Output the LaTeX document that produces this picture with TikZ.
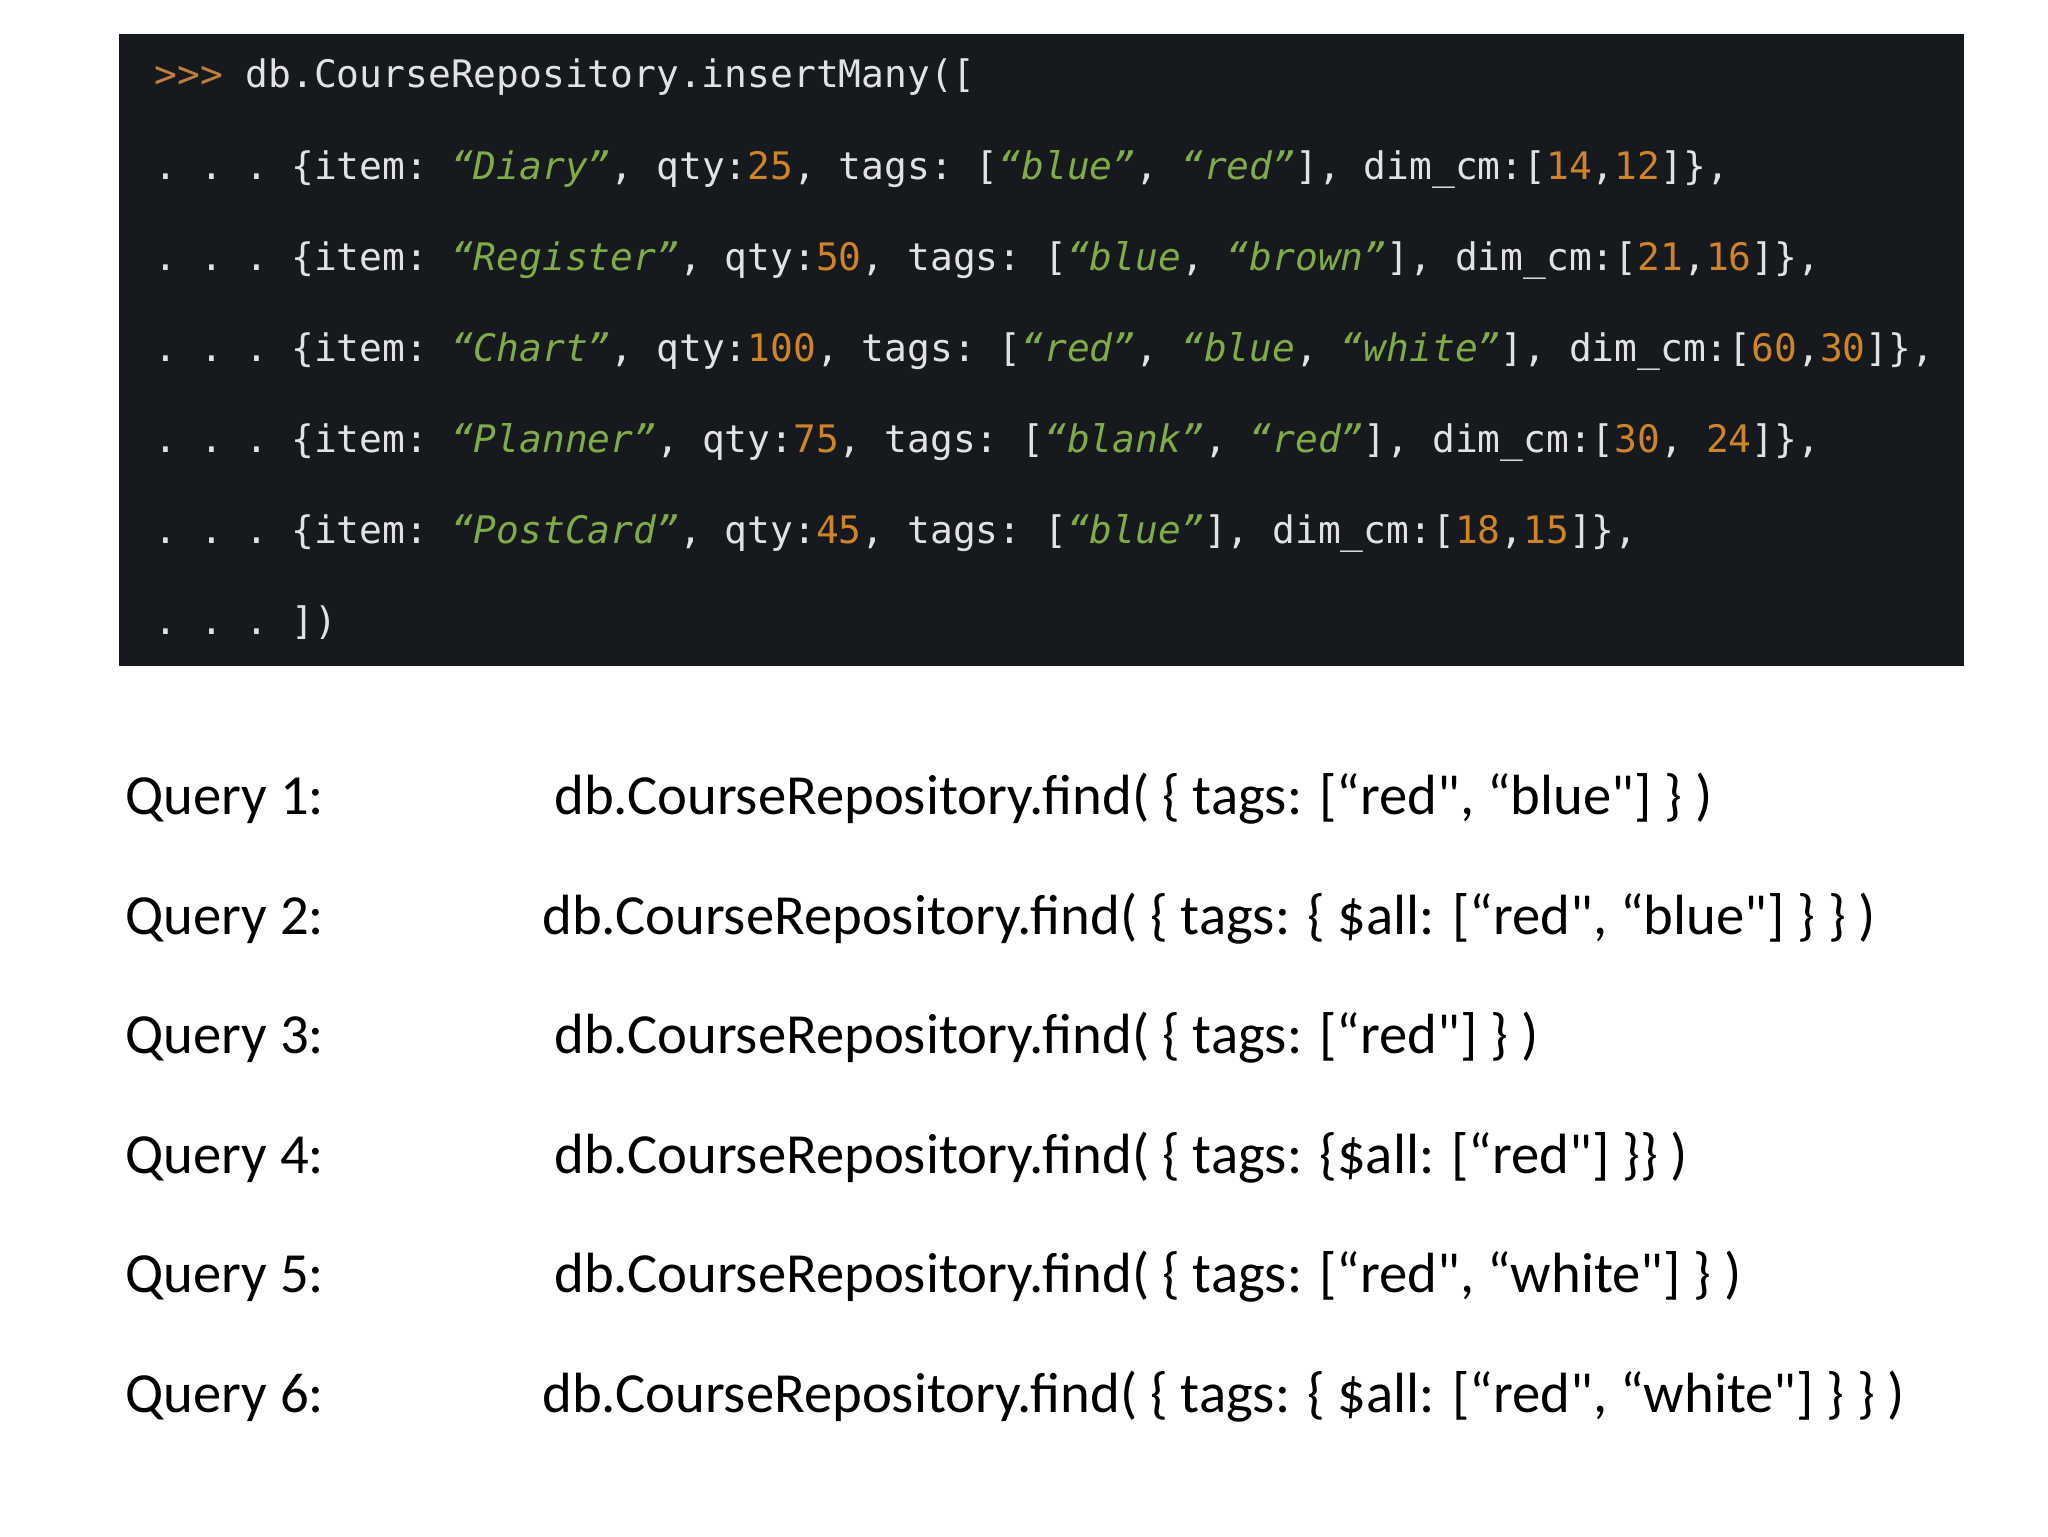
\documentclass[tikz,border=0pt]{standalone}
\usepackage{fontspec}
\setmainfont{Carlito}[Ligatures=TeXOff]
\newfontfamily\codefont{DejaVu Sans Mono}[Ligatures=TeXOff]

\definecolor{codebg}{RGB}{22,25,29}
\definecolor{codefg}{RGB}{226,226,226}
\definecolor{codestr}{RGB}{128,172,72}
\definecolor{codenum}{RGB}{208,132,40}
\definecolor{prompt}{RGB}{190,128,58}
\newcommand{\cstr}[1]{\textcolor{codestr}{\itshape #1}}
\newcommand{\cnum}[1]{\textcolor{codenum}{#1}}

\begin{document}
\begin{tikzpicture}[x = 0.5pt, y = -0.5pt,
    codeline/.style = {anchor=base west, inner sep=0pt, text=codefg,
        font=\codefont\fontsize{18.95}{22}\selectfont\frenchspacing},
    query/.style = {anchor=base west, inner sep=0pt,
        font=\fontsize{28.35}{34}\selectfont}]
    \useasboundingbox (0,0) rectangle (2048,1536);
    \fill[white] (0,0) rectangle (2048,1536);
    % code box
    \fill[codebg] (119,34) rectangle (1964,666);
    \node[codeline] (c0) at (154,88) {\textcolor{prompt}{>>>} db.CourseRepository.insertMany([};
    \node[codeline] (c1) at (154,179) {. . . \{item: \cstr{“Diary”}, qty:\cnum{25}, tags: [\cstr{“blue”}, \cstr{“red”}], dim\_cm:[\cnum{14},\cnum{12}]\},};
    \node[codeline] (c2) at (154,270) {. . . \{item: \cstr{“Register”}, qty:\cnum{50}, tags: [\cstr{“blue}, \cstr{“brown”}], dim\_cm:[\cnum{21},\cnum{16}]\},};
    \node[codeline] (c3) at (154,361) {. . . \{item: \cstr{“Chart”}, qty:\cnum{100}, tags: [\cstr{“red”}, \cstr{“blue}, \cstr{“white”}], dim\_cm:[\cnum{60},\cnum{30}]\},};
    \node[codeline] (c4) at (154,452) {. . . \{item: \cstr{“Planner”}, qty:\cnum{75}, tags: [\cstr{“blank”}, \cstr{“red”}], dim\_cm:[\cnum{30}, \cnum{24}]\},};
    \node[codeline] (c5) at (154,543) {. . . \{item: \cstr{“PostCard”}, qty:\cnum{45}, tags: [\cstr{“blue”}], dim\_cm:[\cnum{18},\cnum{15}]\},};
    \node[codeline] (c6) at (154,634) {. . . ])};
    % queries
    \node[query] (q1) at (125,814) {Query 1:};
    \node[query] (q2) at (125,934) {Query 2:};
    \node[query] (q3) at (125,1053) {Query 3:};
    \node[query] (q4) at (125,1173) {Query 4:};
    \node[query] (q5) at (125,1292) {Query 5:};
    \node[query] (q6) at (125,1412) {Query 6:};
    \node[query] (f1) at (554,814) {db.CourseRepository.find( \{ tags: [“red", “blue"] \} )};
    \node[query] (f2) at (542,934) {db.CourseRepository.find( \{ tags: \{ \$all: [“red", “blue"] \} \} )};
    \node[query] (f3) at (554,1053) {db.CourseRepository.find( \{ tags: [“red"] \} )};
    \node[query] (f4) at (554,1173) {db.CourseRepository.find( \{ tags: \{\$all: [“red"] \}\} )};
    \node[query] (f5) at (554,1292) {db.CourseRepository.find( \{ tags: [“red", “white"] \} )};
    \node[query] (f6) at (542,1412) {db.CourseRepository.find( \{ tags: \{ \$all: [“red", “white"] \} \} )};
\end{tikzpicture}
\end{document}
